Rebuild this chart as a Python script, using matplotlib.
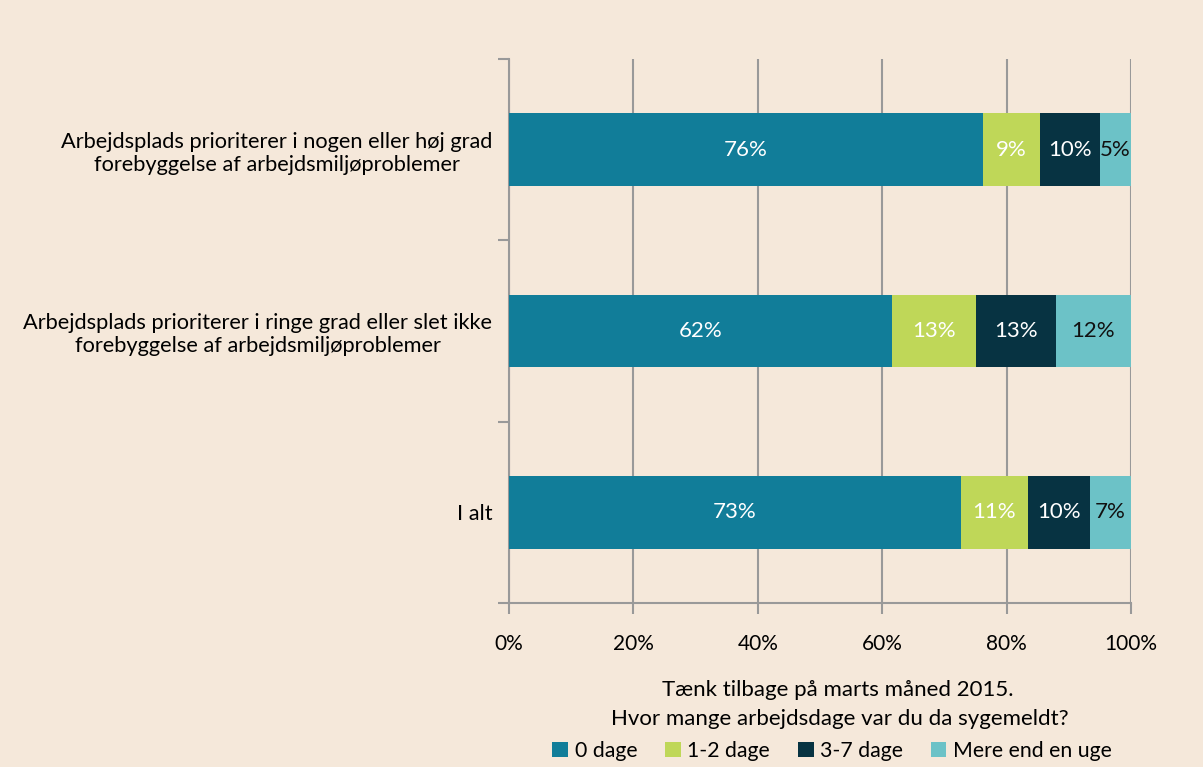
import matplotlib
matplotlib.use("Agg")
import matplotlib.pyplot as plt
from matplotlib.patches import Patch

categories = [
    "Arbejdsplads prioriterer i nogen eller høj grad\nforebyggelse af arbejdsmiljøproblemer",
    "Arbejdsplads prioriterer i ringe grad eller slet ikke\nforebyggelse af arbejdsmiljøproblemer",
    "I alt",
]
series_names = ["0 dage", "1-2 dage", "3-7 dage", "Mere end en uge"]
v0 = [76.2, 61.6, 72.6]
v12 = [9.2, 13.4, 10.8]
v37 = [9.6, 12.9, 10.0]
vmore = [5.0, 12.1, 6.6]
xticks = [0, 20, 40, 60, 80, 100]

colors = ["#117D99", "#BFD758", "#073342", "#6CC2C7"]
text_colors = ["white", "white", "white", "#111111"]
bg = "#F5E8DA"

plt.rcParams["font.family"] = ["Lato", "DejaVu Sans"]

fig = plt.figure(figsize=(12.03, 7.67), dpi=100, facecolor=bg)
ax = fig.add_axes([509 / 1203, 1 - 603 / 767, (1131 - 509) / 1203, (603 - 59) / 767])
ax.set_facecolor(bg)

ypos = list(range(len(categories)))
left = [0, 0, 0]
for vals, c, tc in zip([v0, v12, v37, vmore], colors, text_colors):
    ax.barh(ypos, vals, left=left, height=0.4, color=c, zorder=3)
    for y, l, v in zip(ypos, left, vals):
        ax.text(l + v / 2, y, f"{v:.0f}%", ha="center", va="center", color=tc, fontsize=16, zorder=4)
    left = [a + b for a, b in zip(left, vals)]

ax.set_xlim(0, 100)
ax.set_ylim(2.5, -0.5)
ax.set_xticks(xticks)
ax.set_xticklabels([f"{t}%" for t in xticks], fontsize=15)
ax.set_yticks(ypos)
ax.set_yticklabels(categories, fontsize=15.7)
ax.set_yticks([-0.5, 0.5, 1.5, 2.5], minor=True)
ax.tick_params(axis="y", which="major", length=0, pad=12)
ax.tick_params(axis="y", which="minor", length=8, color="#999999", width=1.5)
ax.tick_params(axis="x", length=8, color="#999999", width=1.5, pad=14)
for lab in ax.get_yticklabels():
    lab.set_multialignment("center")

ax.grid(axis="x", color="#999999", linewidth=1.5, zorder=0)
for s in ["top", "right"]:
    ax.spines[s].set_visible(False)
for s in ["left", "bottom"]:
    ax.spines[s].set_color("#999999")
    ax.spines[s].set_linewidth(1.5)

fig.text(838 / 1203, 1 - 690 / 767, "Tænk tilbage på marts måned 2015.", ha="center", va="center", fontsize=16)
fig.text(840 / 1203, 1 - 719 / 767, "Hvor mange arbejdsdage var du da sygemeldt?", ha="center", va="center", fontsize=16)
handles = [Patch(facecolor=c, edgecolor="none") for c in colors]
fig.legend(handles, series_names, loc="center", bbox_to_anchor=(832 / 1203, 1 - 751 / 767), ncol=4,
           frameon=False, fontsize=15.3, handlelength=0.75, handleheight=0.75, handletextpad=0.3,
           columnspacing=1.3, borderaxespad=0, borderpad=0)

fig.savefig("out.png", dpi=100, facecolor=bg)
